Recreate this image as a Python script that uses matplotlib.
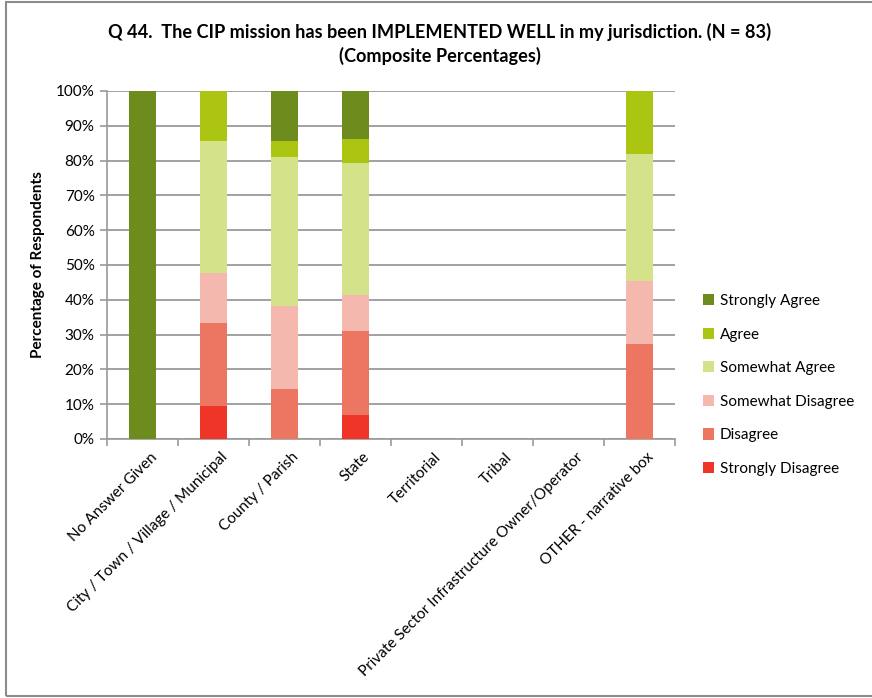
import matplotlib
matplotlib.use("Agg")
import matplotlib.pyplot as plt
from matplotlib.patches import Rectangle
import numpy as np

plt.rcParams['font.family'] = ['Lato', 'DejaVu Sans']

categories = ["No Answer Given", "City / Town / Village / Municipal", "County / Parish",
              "State", "Territorial", "Tribal",
              "Private Sector Infrastructure Owner/Operator", "OTHER - narrative box"]

# composite percentages per response level (bottom to top)
strongly_disagree = [0, 9.52, 0, 6.90, 0, 0, 0, 0]
disagree          = [0, 23.81, 14.29, 24.14, 0, 0, 0, 27.27]
somewhat_disagree = [0, 14.29, 23.81, 10.34, 0, 0, 0, 18.18]
somewhat_agree    = [0, 38.10, 42.86, 37.93, 0, 0, 0, 36.36]
agree             = [0, 14.29, 4.76, 6.90, 0, 0, 0, 18.18]
strongly_agree    = [100, 0, 14.29, 13.79, 0, 0, 0, 0]

series = [
    ("Strongly Disagree", strongly_disagree, "#EE3528"),
    ("Disagree", disagree, "#EC7662"),
    ("Somewhat Disagree", somewhat_disagree, "#F5B8AE"),
    ("Somewhat Agree", somewhat_agree, "#D4E28A"),
    ("Agree", agree, "#ABC512"),
    ("Strongly Agree", strongly_agree, "#6E8B1E"),
]

fig = plt.figure(figsize=(8.72, 6.98), dpi=100)
ax = fig.add_axes([107/872, 1 - 439/698, (675 - 107)/872, (439 - 91)/698])

x = np.arange(len(categories))
bottom = np.zeros(len(categories))
handles = []
for name, vals, color in series:
    v = np.array(vals, dtype=float)
    b = ax.bar(x, v, bottom=bottom, width=0.39, color=color, label=name, zorder=3,
               edgecolor='none')
    handles.append(b)
    bottom += v

ax.set_xlim(-0.5, len(categories) - 0.5)
ax.set_ylim(0, 100)
ax.set_yticks(np.arange(0, 101, 10))
ax.set_yticklabels([f"{t}%" for t in range(0, 101, 10)], fontsize=11)
ax.yaxis.grid(True, color="#9A9A9A", linewidth=1.3, zorder=0)
ax.set_axisbelow(True)

ax.set_xticks(np.arange(-0.5, len(categories)))
ax.set_xticklabels([])
ax.tick_params(axis='x', length=5, color="#9A9A9A", width=1.2)
ax.tick_params(axis='y', length=5, color="#9A9A9A", width=1.2, pad=4)
for s in ['top', 'right']:
    ax.spines[s].set_visible(False)
for s in ['left', 'bottom']:
    ax.spines[s].set_color("#9A9A9A")
    ax.spines[s].set_linewidth(1.2)

for i, lab in enumerate(categories):
    ax.text(i + 0.17, -4.6, lab, rotation=45, ha='right', va='center',
            rotation_mode='anchor', fontsize=11, transform=ax.transData)

ax.set_ylabel("Percentage of Respondents", fontsize=11, fontweight='bold', labelpad=8)

fig.text(440/872, 1 - 32/698, "Q 44.  The CIP mission has been IMPLEMENTED WELL in my jurisdiction. (N = 83)",
         ha='center', va='center', fontsize=13.1, fontweight='bold')
fig.text(440/872, 1 - 56/698, "(Composite Percentages)",
         ha='center', va='center', fontsize=13.1, fontweight='bold')

leg = fig.legend(handles[::-1], [s[0] for s in series][::-1], loc='center left',
                 bbox_to_anchor=(689/872, 1 - 385/698), frameon=False, fontsize=11,
                 handlelength=0.75, handleheight=0.75, handletextpad=0.35,
                 labelspacing=1.28)

fig.patches.append(Rectangle((6/872, 2/698), 1.2, 1 - 4/698, transform=fig.transFigure,
                             fill=False, edgecolor="#8C8C8C", linewidth=1.5))

fig.savefig("out.png", dpi=100)
